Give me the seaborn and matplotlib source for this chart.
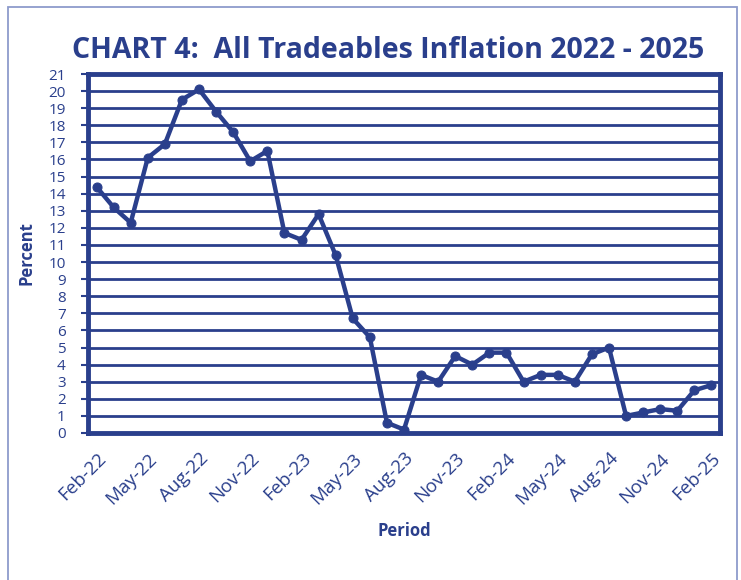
import numpy as np
import pandas as pd
import matplotlib
matplotlib.use("Agg")
import matplotlib.pyplot as plt
import seaborn as sns

# %% Data
periods = [
    "Feb-22", "Mar-22", "Apr-22", "May-22", "Jun-22", "Jul-22", "Aug-22", "Sep-22",
    "Oct-22", "Nov-22", "Dec-22", "Jan-23", "Feb-23", "Mar-23", "Apr-23", "May-23",
    "Jun-23", "Jul-23", "Aug-23", "Sep-23", "Oct-23", "Nov-23", "Dec-23", "Jan-24",
    "Feb-24", "Mar-24", "Apr-24", "May-24", "Jun-24", "Jul-24", "Aug-24", "Sep-24",
    "Oct-24", "Nov-24", "Dec-24", "Jan-25", "Feb-25",
]
inflation = [
    14.4, 13.2, 12.3, 16.1, 16.9, 19.5, 20.1, 18.8,
    17.6, 15.9, 16.5, 11.7, 11.3, 12.8, 10.4, 6.7,
    5.6, 0.6, 0.2, 3.4, 3.0, 4.5, 4.0, 4.7,
    4.7, 3.0, 3.4, 3.4, 3.0, 4.6, 5.0, 1.0,
    1.2, 1.4, 1.3, 2.5, 2.8,
]
tick_labels = ["Feb-22", "May-22", "Aug-22", "Nov-22", "Feb-23", "May-23", "Aug-23",
               "Nov-23", "Feb-24", "May-24", "Aug-24", "Nov-24", "Feb-25"]

df = pd.DataFrame({"Period": periods, "Inflation": inflation})
df["pos"] = np.arange(len(df))

NAVY = "#2a3f8c"

sns.set_style("white")
plt.rcParams["font.family"] = ["Open Sans", "DejaVu Sans"]

fig = plt.figure(figsize=(7.41, 5.80), dpi=100)
ax = fig.add_axes([88 / 741, 1 - 433 / 580, (720 - 88) / 741, (433 - 74) / 580])

# figure border
fig.patches.append(plt.Rectangle((8 / 741, -0.05), (737 - 8) / 741, 1.05 - 7 / 580,
                                 transform=fig.transFigure, fill=False,
                                 edgecolor="#8d9bcb", linewidth=1.3))

# gridlines
for yv in range(1, 22):
    ax.axhline(yv, color=NAVY, linewidth=2.0, zorder=1)

sns.lineplot(data=df, x="pos", y="Inflation", ax=ax, color=NAVY, linewidth=3.2,
             marker="o", markersize=6.5, markeredgecolor=NAVY, zorder=3)

ax.set_xlim(-0.5, len(df) - 0.5)
ax.set_ylim(0, 21)
ax.set_yticks(range(0, 22))
ax.tick_params(axis="y", labelsize=11, colors=NAVY, length=5, width=1.5, pad=11)

tick_pos = [periods.index(t) for t in tick_labels]
ax.set_xticks(tick_pos)
ax.set_xticklabels(tick_labels, rotation=45, ha="right", rotation_mode="anchor")
ax.set_xticks(np.arange(-0.5, len(df), 1), minor=True)
ax.tick_params(axis="x", which="major", length=0, labelsize=13.5, colors=NAVY, pad=12)
ax.tick_params(axis="x", which="minor", length=5, width=1.6, color=NAVY, direction="out")
ax.tick_params(axis="both", bottom=True, left=True)

for side in ["left", "right", "top", "bottom"]:
    ax.spines[side].set_visible(True)
    ax.spines[side].set_color(NAVY)
    ax.spines[side].set_linewidth(3.5)

ax.set_xlabel("Period", fontsize=12, fontweight="bold", color=NAVY, labelpad=10)
ax.set_ylabel("Percent", fontsize=12, fontweight="bold", color=NAVY, labelpad=9)

fig.text(388 / 741, 1 - 50 / 580, "CHART 4:  All Tradeables Inflation 2022 - 2025",
         ha="center", va="center", fontsize=20.5, fontweight="bold", color=NAVY)

fig.savefig("out.png", dpi=100)
